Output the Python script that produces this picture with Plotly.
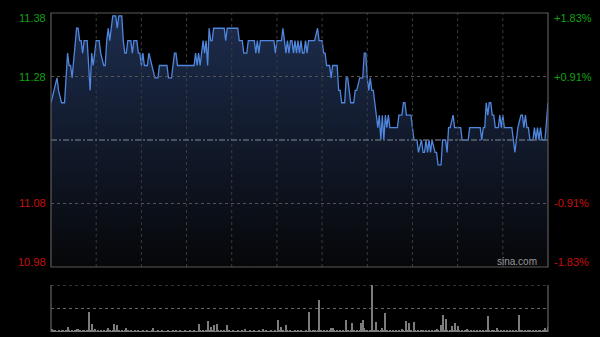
import plotly.graph_objects as go

# ---------------- data ----------------
prev_close = 11.18
y_low, y_high = 10.9754, 11.3846

minutes = [0, 2, 4, 5, 7, 9, 10, 11, 12, 13, 14, 16, 17, 18, 19, 20, 21, 22, 24, 25, 26, 27, 28, 29, 30,
           32, 33, 35, 36, 37, 38, 39, 40, 41, 43, 44, 45, 47, 48, 49, 50, 51, 53, 54, 55, 57, 58, 59, 60,
           61, 62, 64, 65, 67, 69, 71, 72, 77, 78, 80, 82, 83, 84, 95, 96, 97, 98, 99, 100, 101, 102, 103,
           104, 105, 106, 107, 108, 115, 116, 117, 124, 125, 127, 128, 130, 131, 135, 136, 137, 138, 139,
           148, 149, 150, 153, 154, 155, 156, 157, 158, 159, 160, 161, 162, 163, 164, 165, 166, 167, 168,
           169, 170, 171, 175, 177, 178, 180, 181, 182, 183, 185, 186, 187, 190, 191, 192, 193, 195, 196,
           197, 198, 199, 201, 202, 203, 205, 207, 208, 209, 210, 211, 212, 213, 214, 215, 216, 217, 218,
           219, 220, 221, 222, 223, 224, 225, 230, 231, 233, 234, 235, 236, 239, 241, 243, 244, 246, 247,
           248, 249, 250, 251, 252, 253, 255, 256, 257, 259, 260, 262, 263, 264, 265, 267, 268, 272, 273,
           277, 278, 285, 286, 287, 288, 289, 290, 291, 292, 293, 294, 295, 297, 298, 299, 300, 301, 306,
           307, 308, 309, 310, 312, 313, 314, 315, 316, 317, 318, 320, 321, 322, 323, 324, 325, 326, 328, 330]

prices = [11.24, 11.26, 11.28, 11.26, 11.24, 11.24, 11.28, 11.32, 11.30, 11.30, 11.28, 11.34, 11.36, 11.36,
          11.34, 11.34, 11.32, 11.34, 11.34, 11.30, 11.26, 11.32, 11.30, 11.32, 11.34, 11.34, 11.32, 11.30,
          11.30, 11.34, 11.36, 11.34, 11.36, 11.38, 11.38, 11.36, 11.38, 11.38, 11.34, 11.32, 11.32, 11.34,
          11.34, 11.32, 11.34, 11.34, 11.32, 11.32, 11.30, 11.32, 11.30, 11.30, 11.32, 11.30, 11.28, 11.28,
          11.30, 11.30, 11.28, 11.28, 11.32, 11.32, 11.30, 11.30, 11.32, 11.30, 11.32, 11.30, 11.32, 11.34,
          11.32, 11.34, 11.30, 11.36, 11.34, 11.34, 11.36, 11.36, 11.34, 11.36, 11.36, 11.34, 11.34, 11.32,
          11.32, 11.34, 11.34, 11.32, 11.34, 11.32, 11.34, 11.34, 11.32, 11.34, 11.34, 11.36, 11.34, 11.32,
          11.34, 11.32, 11.34, 11.34, 11.32, 11.34, 11.32, 11.34, 11.32, 11.34, 11.32, 11.32, 11.34, 11.32,
          11.34, 11.34, 11.36, 11.34, 11.34, 11.32, 11.32, 11.30, 11.30, 11.28, 11.30, 11.30, 11.26, 11.26,
          11.24, 11.24, 11.28, 11.28, 11.26, 11.24, 11.24, 11.26, 11.26, 11.28, 11.28, 11.32, 11.32, 11.28,
          11.26, 11.28, 11.26, 11.26, 11.24, 11.22, 11.20, 11.22, 11.18, 11.22, 11.18, 11.22, 11.20, 11.22,
          11.20, 11.20, 11.22, 11.22, 11.24, 11.24, 11.22, 11.22, 11.18, 11.18, 11.16, 11.18, 11.16, 11.16,
          11.18, 11.16, 11.18, 11.16, 11.18, 11.16, 11.16, 11.14, 11.14, 11.18, 11.18, 11.16, 11.20, 11.20,
          11.22, 11.20, 11.20, 11.18, 11.18, 11.20, 11.20, 11.18, 11.20, 11.20, 11.24, 11.22, 11.24, 11.24,
          11.22, 11.22, 11.20, 11.20, 11.22, 11.20, 11.22, 11.20, 11.20, 11.18, 11.16, 11.18, 11.20, 11.22,
          11.22, 11.20, 11.22, 11.20, 11.20, 11.18, 11.18, 11.20, 11.18, 11.20, 11.18, 11.20, 11.18, 11.18,
          11.24]

volume = [5, 7, 3, 4, 2, 3, 2, 4, 3, 2,
          3, 11, 3, 2, 3, 2, 4, 6, 7, 3,
          2, 4, 3, 2, 3, 43, 4, 16, 3, 6,
          2, 3, 2, 3, 2, 3, 2, 4, 9, 3,
          2, 3, 17, 3, 14, 3, 2, 3, 2, 4,
          9, 3, 2, 3, 2, 2, 3, 2, 3, 2,
          2, 3, 2, 2, 3, 2, 2, 3, 9, 2,
          2, 3, 2, 2, 3, 2, 2, 2, 3, 2,
          2, 4, 2, 3, 2, 2, 3, 2, 2, 3,
          2, 2, 3, 2, 2, 3, 2, 2, 17, 3,
          2, 3, 2, 3, 24, 3, 11, 3, 14, 2,
          17, 3, 2, 3, 2, 3, 2, 14, 3, 2,
          2, 3, 2, 2, 3, 2, 2, 3, 2, 6,
          2, 2, 3, 2, 2, 3, 2, 2, 3, 2,
          2, 6, 2, 3, 2, 2, 3, 2, 2, 3,
          2, 26, 3, 11, 3, 2, 14, 3, 2, 3,
          2, 2, 3, 2, 4, 2, 3, 2, 2, 3,
          2, 43, 3, 2, 3, 4, 2, 3, 69, 3,
          2, 3, 2, 3, 2, 3, 9, 9, 3, 2,
          3, 2, 3, 2, 3, 2, 26, 3, 2, 3,
          19, 3, 2, 3, 2, 3, 19, 26, 9, 3,
          3, 2, 4, 100, 3, 3, 21, 3, 2, 3,
          9, 3, 41, 3, 2, 3, 2, 3, 2, 3,
          2, 3, 2, 6, 3, 2, 23, 3, 19, 3,
          2, 21, 3, 2, 3, 2, 4, 3, 2, 3,
          2, 3, 2, 3, 2, 3, 6, 3, 2, 14,
          36, 4, 28, 3, 2, 3, 12, 3, 19, 3,
          12, 3, 2, 3, 2, 3, 6, 3, 2, 4,
          2, 3, 2, 3, 2, 3, 2, 3, 2, 3,
          33, 3, 2, 3, 4, 2, 8, 3, 2, 3,
          2, 3, 2, 3, 2, 3, 2, 3, 2, 3,
          2, 36, 4, 3, 2, 3, 2, 4, 3, 2,
          3, 2, 3, 2, 3, 4, 2, 3, 9, 3,
          11]
vol_minutes = list(range(len(volume)))

left_labels = ["11.38", "11.28", "11.08", "10.98"]
left_label_pos = [11.3765, 11.2823, 11.0777, 10.9835]
right_labels = ["+1.83%", "+0.91%", "-0.91%", "-1.83%"]
label_colors = ["#12a012", "#12a012", "#c80e0e", "#c80e0e"]
grid_levels = [11.2823, 11.0777]
time_grid = [30, 60, 90, 120, 150, 180, 210, 240, 270, 300]

# ---------------- figure ----------------
fig = go.Figure()

fig.add_trace(go.Scatter(
    x=minutes, y=prices, mode="lines", xaxis="x", yaxis="y",
    line=dict(color="#4f86de", width=1.3),
    fill="tozeroy",
    fillgradient=dict(type="vertical", start=y_low, stop=y_high,
                      colorscale=[[0, "#060709"], [1, "#1d2d4e"]]),
    hoverinfo="skip", showlegend=False,
))

fig.add_trace(go.Bar(
    x=vol_minutes, y=volume, xaxis="x2", yaxis="y2",
    marker=dict(color="#7c7c7c", line=dict(width=0)), width=0.7,
    hoverinfo="skip", showlegend=False,
))

main_dom = [0.2038, 1.0]
vol_dom = [0.0, 0.1473]

fig.update_layout(
    width=600, height=337,
    margin=dict(l=51, r=52, t=13, b=5),
    paper_bgcolor="#000000", plot_bgcolor="#000000",
    bargap=0,
    xaxis=dict(domain=[0, 1], range=[0, 330], anchor="y", showgrid=False,
               showticklabels=False, zeroline=False, showline=False, fixedrange=True),
    yaxis=dict(domain=main_dom, range=[y_low, y_high], anchor="x", showgrid=False,
               showticklabels=False, zeroline=False, showline=False),
    xaxis2=dict(domain=[0, 1], range=[0, 330], anchor="y2", showgrid=False,
                showticklabels=False, zeroline=False, showline=False),
    yaxis2=dict(domain=vol_dom, range=[0, 100], anchor="x2", showgrid=False,
                showticklabels=False, zeroline=False, showline=False),
)

shapes = []
grid_col = "#3c3c3c"
for t in time_grid:
    shapes.append(dict(type="line", xref="x", yref="y domain", x0=t, x1=t, y0=0, y1=1,
                       line=dict(color=grid_col, width=1, dash="dot"), layer="above"))
for g in grid_levels:
    shapes.append(dict(type="line", xref="x domain", yref="y", x0=0, x1=1, y0=g, y1=g,
                       line=dict(color="#555555", width=1, dash="dot"), layer="above"))
shapes.append(dict(type="line", xref="x domain", yref="y", x0=0, x1=1, y0=prev_close, y1=prev_close,
                   line=dict(color="#5d6674", width=1.5, dash="6px,2px,2px,2px"), layer="above"))
# main panel border
shapes.append(dict(type="rect", xref="x domain", yref="y domain", x0=0, x1=1, y0=0, y1=1,
                   line=dict(color="#5a5a5a", width=1.2), layer="above"))
# volume panel frame
shapes.append(dict(type="line", xref="x2 domain", yref="y2", x0=0, x1=1, y0=100, y1=100,
                   line=dict(color="#666666", width=1, dash="dot"), layer="above"))
shapes.append(dict(type="line", xref="x2 domain", yref="y2", x0=0, x1=1, y0=50, y1=50,
                   line=dict(color="#666666", width=1, dash="dot"), layer="above"))
for xv in [0, 1]:
    shapes.append(dict(type="line", xref="x2 domain", yref="y2 domain", x0=xv, x1=xv, y0=0, y1=1,
                       line=dict(color="#666666", width=1.2), layer="above"))
fig.update_layout(shapes=shapes)

annos = []
font_family = "Liberation Sans, Arial, sans-serif"
for txt, yv, col in zip(left_labels, left_label_pos, label_colors):
    annos.append(dict(text=txt, xref="paper", yref="y", x=0, y=yv, xanchor="right", yanchor="middle",
                      xshift=-3, showarrow=False, font=dict(family=font_family, size=11, color=col)))
for txt, yv, col in zip(right_labels, left_label_pos, label_colors):
    annos.append(dict(text=txt, xref="paper", yref="y", x=1, y=yv, xanchor="left", yanchor="middle",
                      xshift=4, showarrow=False, font=dict(family=font_family, size=11, color=col)))
annos.append(dict(text="sina.com", xref="paper", yref="y", x=1, y=10.9835, xanchor="right",
                  yanchor="middle", xshift=-9, showarrow=False,
                  font=dict(family=font_family, size=10, color="#9a9a9a")))
fig.update_layout(annotations=annos)

fig.write_html("out.html")
